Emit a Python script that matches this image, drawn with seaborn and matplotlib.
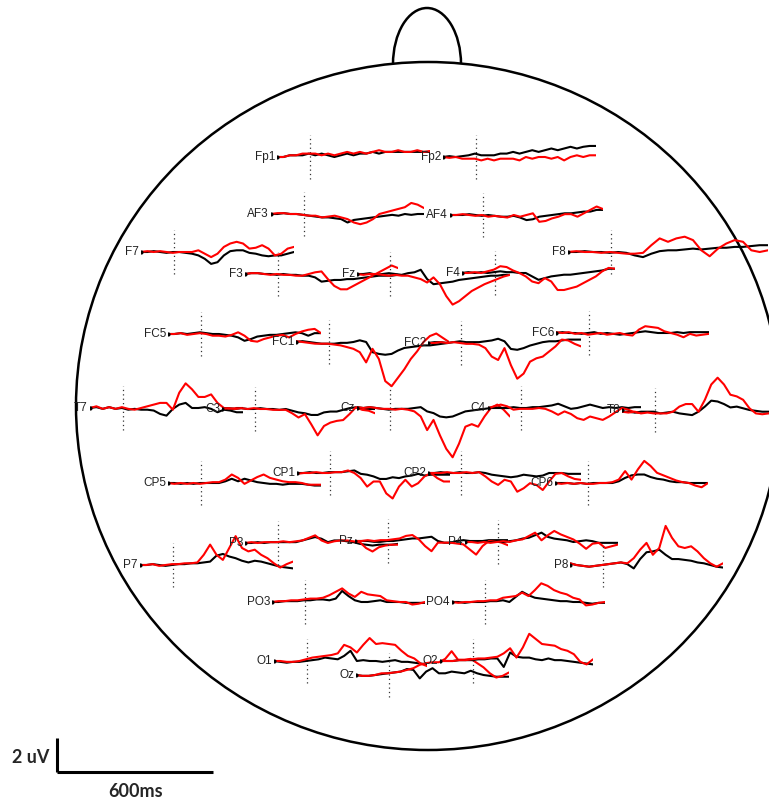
import numpy as np
import pandas as pd
import seaborn as sns
import matplotlib
matplotlib.use("Agg")
import matplotlib.pyplot as plt
from matplotlib.patches import Ellipse, Arc

# ---------------- data (uV, sampled every 25 ms from -130 ms) ----------------
times_ms = list(range(-130, 471, 25))

fp1_k = [0,0,0.1,0.1,0.1,0.2,0.1,0.2,0.1,0,0.1,0.2,0.1,0.2,0.2,0.3,0.2,0.3,0.3,0.3,0.3,0.3,0.3,0.3,0.3]
fp1_r = [0,0,0.1,0.1,0.2,0.2,0.2,0.1,0.2,0.1,0.2,0.3,0.2,0.3,0.2,0.3,0.4,0.3,0.3,0.4,0.3,0.3,0.4,0.3,0.35]
fp2_k = [0,0.05,0,0.05,0.1,0.2,0.1,0.1,0.1,0.2,0.2,0.3,0.2,0.3,0.4,0.3,0.4,0.5,0.4,0.5,0.6,0.5,0.6,0.65,0.65]
fp2_r = [0,-0.05,0,-0.1,-0.1,-0.1,-0.2,-0.1,-0.2,-0.1,-0.1,-0.1,-0.2,0,-0.1,0,0,-0.1,0,-0.2,0,0.1,0,0.1,0.1]
af3_k = [0,0,0.05,0,0,-0.05,-0.1,-0.15,-0.2,-0.2,-0.25,-0.3,-0.5,-0.35,-0.3,-0.25,-0.2,-0.15,-0.1,-0.05,-0.1,0,-0.05,0,0]
af3_r = [0,0.05,0.05,0,0,-0.05,-0.1,-0.1,-0.2,-0.15,-0.1,-0.2,-0.3,-0.5,-0.6,-0.5,-0.3,0,0.1,0.2,0.3,0.4,0.65,0.55,0.35]
af4_k = [0,0,0,0.05,0,-0.05,0,-0.05,-0.1,-0.1,-0.05,-0.15,-0.3,-0.25,-0.1,-0.05,0,0.05,0.1,0.1,0.15,0.2,0.2,0.3,0.3]
af4_r = [0,0,0.05,0,-0.05,0,-0.1,-0.05,-0.1,-0.15,0,-0.1,0,0.1,-0.4,-0.35,-0.2,-0.1,0.05,0.05,-0.1,0.1,0.3,0.5,0.35]
f7_k = [0,0,0.05,0,-0.05,0,0,-0.05,-0.1,-0.2,-0.4,-0.7,-0.6,-0.2,0.05,0.1,0.1,-0.05,-0.1,-0.2,-0.25,-0.2,-0.2,-0.1,0]
f7_r = [0,0.05,0,0.05,0,-0.05,0,0,0,0.1,-0.1,-0.3,-0.1,0.3,0.5,0.6,0.5,0.2,0.25,0.4,0.2,-0.2,-0.1,0.2,0.3]
f3_k = [0,0.05,0.05,0,0,-0.05,0,-0.05,-0.05,-0.1,-0.1,-0.2,-0.45,-0.4,-0.35,-0.35,-0.3,-0.3,-0.25,-0.2,-0.15,-0.1,-0.1,-0.1,-0.05]
f3_r = [0,0.05,0.05,0,-0.05,0,-0.05,-0.05,-0.1,-0.1,0,0.1,0.15,-0.3,-0.7,-0.9,-0.9,-0.7,-0.5,-0.3,-0.1,0.1,0.3,0.5,0.35]
fz_k = [0,0,0.05,-0.05,0,0.05,0,-0.05,0.05,0.1,0.25,-0.3,-0.6,-0.55,-0.5,-0.45,-0.35,-0.3,-0.25,-0.2,-0.15,-0.1,-0.1,-0.05,-0.05]
fz_r = [0,-0.05,0,0,-0.05,-0.1,-0.05,-0.1,-0.1,-0.2,-0.3,-0.5,-0.2,-0.6,-1.3,-1.8,-1.6,-1.3,-1.0,-0.8,-0.6,-0.45,-0.3,-0.15,-0.05]
f4_k = [0,0.05,0,0.05,0,0.05,0.1,0.05,0.05,0,0,-0.2,-0.4,-0.3,-0.2,-0.15,-0.1,-0.1,-0.05,0,0.05,0.1,0.15,0.25,0.25]
f4_r = [0,0,0.05,0,0.1,0.2,0.4,0.35,0.15,0,-0.2,-0.5,-0.6,-0.3,-0.5,-1.0,-1.0,-0.9,-0.8,-0.6,-0.4,-0.2,0.1,0.3,0.25]
f8_k = [0,0,0.05,0,0,-0.05,0,-0.05,-0.2,-0.3,-0.1,0.05,0.1,0.1,0.15,0.2,0.15,0.2,0.25,0.25,0.3,0.3,0.35,0.4,0.4]
f8_r = [0,0.05,0,0,-0.05,0,-0.05,-0.1,-0.1,-0.05,0.4,0.8,0.6,0.8,0.9,0.7,0.1,-0.25,0.2,0.5,0.7,0.6,0.1,0.0,0.1]
fc5_k = [0,0,0.05,0,0.05,0.1,0.05,0,0,-0.05,-0.1,-0.2,-0.4,-0.3,-0.15,-0.1,-0.05,-0.05,0,0.05,0.1,0.05,-0.1,0.05,0.05]
fc5_r = [0,0,0.05,-0.05,0,0.05,0,-0.1,-0.1,-0.15,-0.05,0.1,-0.1,-0.4,-0.45,-0.3,-0.2,-0.1,-0.05,-0.2,0,0.15,0.25,0.3,0.05]
fc1_k = [0,0.05,0,-0.05,-0.1,-0.1,-0.1,-0.05,-0.05,0,0.1,0,-0.6,-0.7,-0.75,-0.7,-0.5,-0.35,-0.3,-0.25,-0.2,-0.2,-0.15,-0.1,-0.05]
fc1_r = [0.05,0,-0.05,-0.1,-0.1,-0.1,-0.15,-0.2,-0.3,-0.4,-0.6,-1.2,-0.4,-1.0,-2.3,-2.6,-2.1,-1.6,-1.0,-0.55,0,0.35,0.5,0.25,0]
fc2_k = [0,0.05,0.05,0,0.05,0.1,0.05,0.05,0.05,0.1,0.15,0.25,0.1,-0.35,-0.4,-0.3,-0.15,-0.05,0.05,0.1,0.1,0.15,0.2,0.2,0.2]
fc2_r = [0,0,0.05,0,0.05,0,-0.05,-0.05,-0.1,-0.3,-0.8,-1.0,-0.3,-1.3,-2.1,-1.8,-1.1,-0.9,-0.8,-0.5,-0.2,0.2,0.15,-0.05,-0.2]
fc6_k = [0,0.05,0,0,-0.05,0,0.05,-0.05,0,-0.05,-0.1,-0.05,0,0.05,0.1,0.05,0,0,0,0.05,0,0.05,0.05,0.05,0.05]
fc6_r = [0.05,0,0.05,-0.05,0,-0.1,-0.05,0,-0.1,-0.05,0,-0.1,-0.15,0.2,0.4,0.35,0.3,0.1,0,-0.1,-0.25,-0.05,-0.15,-0.1,-0.05]
t7_k = [0,0.05,-0.05,0.05,-0.05,0,-0.1,-0.05,-0.1,-0.1,-0.15,-0.35,-0.45,-0.05,0.2,0.3,0,0,0.05,-0.05,-0.25,-0.1,-0.15,-0.25,-0.25]
t7_r = [0,0.1,-0.05,0.05,-0.05,0.05,-0.05,-0.1,0,0.1,0.2,0.3,0.3,-0.1,0.9,1.45,1.1,0.65,0.65,0.8,0.3,0,-0.05,0,0]
c3_k = [0,0.05,0,0.05,0,0,0.05,0,0,-0.05,0,-0.1,-0.2,-0.25,-0.35,-0.35,-0.2,-0.15,-0.15,-0.05,0.05,0.1,0,0,0]
c3_r = [0,0.05,0,0.05,0,0.05,0,0,-0.05,-0.05,-0.05,-0.25,-0.5,-0.3,-0.9,-1.55,-1.0,-0.8,-0.7,-0.65,-0.3,0.1,-0.05,-0.1,-0.25]
cz_k = [0.05,0,0.05,0,-0.05,-0.1,-0.05,-0.05,-0.05,0,0.05,-0.2,-0.3,-0.5,-0.55,-0.5,-0.35,-0.2,-0.15,-0.1,-0.05,0,0,0,0]
cz_r = [0.05,0,0.05,0,-0.05,-0.05,-0.1,-0.05,-0.1,-0.2,-0.5,-1.3,-0.7,-1.6,-2.4,-2.9,-2.1,-1.1,-0.95,-1.1,-0.5,0,0.2,-0.1,-0.5]
c4_k = [0,0.05,0,0,0.05,0,0,0.05,0.05,0.1,0.15,0.25,0.1,-0.05,0,0.1,0.2,0.1,0,0.05,0,0.05,0,0.05,0.05]
c4_r = [0,0.1,0.2,0.1,-0.1,-0.05,-0.05,-0.05,0,-0.05,-0.2,-0.4,-0.2,-0.35,-0.6,-0.7,-0.5,-0.6,-0.7,-0.5,-0.25,0,-0.1,-0.25,-0.3]
t8_k = [-0.1,-0.1,-0.15,-0.1,-0.1,-0.1,-0.2,-0.15,-0.1,-0.2,-0.25,-0.3,-0.1,0.2,0.55,0.5,0.35,0.15,0.2,0.1,0,-0.05,-0.1,-0.1,-0.1]
t8_r = [-0.1,-0.15,-0.1,-0.2,-0.15,-0.2,-0.2,-0.2,-0.1,0.2,0.35,0.35,-0.1,0.6,1.5,1.9,1.5,0.9,0.8,0.6,0.1,-0.2,-0.25,-0.2,-0.2]
cp5_k = [0,0,-0.05,0,-0.05,0,0,0,0,0.1,0.25,0.1,0.25,0.15,0.05,0,-0.05,-0.05,-0.1,-0.05,-0.05,-0.05,-0.1,-0.15,-0.15]
cp5_r = [0,-0.05,0,-0.05,0,-0.05,0,0.05,0.05,0.2,0.5,0.3,-0.05,0.15,0.35,0.5,0.3,0.2,0.1,0.05,0.05,0,-0.1,-0.1,-0.1]
cp1_k = [0,0,0.05,0,0,0.05,0.05,0.05,0.1,0.15,-0.05,-0.1,-0.2,-0.35,-0.35,-0.25,-0.3,-0.2,-0.15,-0.05,-0.15,-0.1,-0.1,-0.1,-0.1]
cp1_r = [-0.05,0,0,0.05,0,0,0.05,0.05,0.15,0,-0.3,-0.8,-0.5,-0.5,-1.2,-1.5,-0.8,-0.4,-0.8,-0.6,-0.2,0,-0.3,-0.5,-0.5]
cp2_k = [0,0,0.05,0,0,0.05,0,0,0.05,0,-0.1,-0.15,-0.2,-0.25,-0.2,-0.1,-0.15,-0.2,-0.15,0,0,0,-0.05,-0.05,-0.05]
cp2_r = [0,0,0,0.05,0,0,0.05,0,0.05,-0.2,-0.5,-0.7,-0.4,-0.5,-1.1,-0.9,-0.6,-0.7,-1.0,-0.5,-0.05,0,-0.2,-0.35,-0.4]
cp6_k = [0,0,0,-0.05,0,-0.05,0,0,0,0,0.1,0.3,0.45,0.5,0.5,0.35,0.25,0.2,0.1,0.05,0.05,0,0,0,0]
cp6_r = [0,-0.05,0,-0.05,0,-0.05,-0.05,0,0,0.05,0.2,0.7,0.2,0.8,1.3,1.0,0.6,0.45,0.3,0.15,0.05,0,-0.15,-0.25,0]
p7_k = [0,0,0.05,0,-0.05,0,0.05,0.05,0.1,0.1,0.15,0.2,0.55,0.65,0.5,0.4,0.25,0.15,0.25,0.2,0.1,0,-0.1,-0.15,-0.2]
p7_r = [0,0,0.05,-0.05,0,0.05,0.05,0.1,0.1,0.15,0.6,1.2,0.6,0.3,1.0,1.7,1.0,0.8,0.9,0.6,0.4,0.1,-0.15,0.05,0.2]
p3_k = [0,0,0.05,0,0.05,0.05,0.05,0.05,0.05,0.15,0.25,0.35,0.25,0.05,0.15,0.15,0.1,0.05,-0.05,-0.1,-0.15,-0.1,-0.1,-0.1,-0.05]
p3_r = [0,0.05,0,0.05,0.05,0.05,0.1,0.05,0.1,0.15,0.3,0.45,0.15,0,0.1,0.15,0.15,0.1,0.05,-0.3,-0.5,-0.25,-0.15,-0.1,-0.1]
pz_k = [0,0,0,-0.05,-0.05,0,0,0.05,0.1,0.15,0.15,0.2,0.25,0,-0.1,-0.1,0,0.05,0,0,0,0.05,0.05,0.05,0.05]
pz_r = [0,0,0.05,0,0.05,0.05,0.1,0.15,0.3,0.35,0.1,-0.3,-0.6,-0.1,-0.1,-0.1,-0.15,-0.2,-0.5,-0.8,-0.3,0,0,-0.1,-0.25]
p4_k = [0,0,0.05,0,0,0.05,0,0.05,0.1,0.2,0.25,0.4,0.55,0.3,0.2,0.15,0.1,0,0.05,0.1,0.05,-0.05,-0.05,-0.05,-0.05]
p4_r = [0,0,-0.05,0,-0.05,0,0.05,0,0.1,0.15,0.35,0.55,0.1,0.4,0.65,0.45,0.3,0.15,-0.1,-0.4,-0.1,-0.05,-0.35,-0.25,-0.15]
p8_k = [0.1,0,-0.05,-0.1,-0.05,0,0.05,0.1,0.15,0.05,-0.2,0.35,0.75,0.8,0.9,0.6,0.35,0.35,0.3,0.25,0.15,0.1,0,-0.1,-0.15]
p8_r = [0.1,0,-0.05,-0.1,-0.05,0,0.05,0.1,0.15,0.1,0.4,0.9,1.3,0.6,1.0,2.3,1.6,1.1,1.0,1.1,0.8,0.4,0.1,-0.1,0.1]
po3_k = [0,0,0.05,0.05,0.05,0.1,0.1,0.15,0.15,0.1,0.2,0.65,0.35,0.1,0,0,0.05,0.1,0,0,0,-0.05,-0.05,-0.05,-0.05]
po3_r = [0,0.05,0.05,0.1,0.1,0.15,0.2,0.2,0.25,0.4,0.6,0.8,0.5,0.3,0.6,0.45,0.4,0.35,0.1,0.05,0,0,-0.15,-0.1,0]
po4_k = [0,0,-0.05,0,0,0,0.05,0.05,0.1,0,0.3,0.6,0.4,0.25,0.2,0.15,0.1,0.05,0.05,0,0,-0.05,-0.1,-0.05,-0.05]
po4_r = [0,-0.05,0,0,0.05,0.05,0.1,0.1,0.25,0.3,0.35,0.55,0.35,0.7,1.1,0.95,0.7,0.55,0.45,0.25,0.15,-0.2,-0.15,-0.05,0]
o1_k = [0,-0.05,-0.1,-0.05,-0.05,0,0.05,0.1,0.2,0.15,0.1,0.3,0.6,0,0.05,0,0,-0.05,0,0.05,-0.05,-0.05,-0.1,-0.15,-0.2]
o1_r = [0,0,-0.05,-0.05,0,0.1,0.2,0.25,0.3,0.35,0.45,0.95,0.8,0.5,0.95,1.35,1.0,1.05,1.0,0.95,0.6,0.3,0.15,-0.15,-0.3]
oz_k = [0,-0.05,-0.05,0,0.05,0.1,0.15,0.2,0.35,0.3,-0.2,0.2,0.4,0.1,0.1,0.2,0.15,0.1,0.25,0.1,0,-0.05,-0.1,-0.1,-0.1]
oz_r = [0,-0.05,-0.05,0,0.1,0.1,0.15,0.2,0.3,0.4,0.6,0.7,0.75,0.75,0.95,1.4,0.9,0.9,0.95,0.7,0.45,0.1,-0.15,-0.05,0.15]
o2_k = [0,0,0,0.05,0.05,0.05,0.1,0.1,0.15,0.15,-0.35,0.5,0.25,0.2,0.2,0.1,0.05,0.15,0.05,0.05,0,-0.05,-0.1,-0.15,-0.2]
o2_r = [0,0,0,0.05,0.05,0.1,0.15,0.15,0.2,0.25,0.45,0.75,0.2,0.8,1.6,1.3,1.0,0.95,0.9,0.7,0.6,0.4,-0.05,-0.2,0.1]

channel_names = ["Fp1","Fp2","AF3","AF4","F7","F3","Fz","F4","F8",
                 "FC5","FC1","FC2","FC6","T7","C3","Cz","C4","T8",
                 "CP5","CP1","CP2","CP6","P7","P3","Pz","P4","P8",
                 "PO3","PO4","O1","Oz","O2"]
black_series = [fp1_k,fp2_k,af3_k,af4_k,f7_k,f3_k,fz_k,f4_k,f8_k,
                fc5_k,fc1_k,fc2_k,fc6_k,t7_k,c3_k,cz_k,c4_k,t8_k,
                cp5_k,cp1_k,cp2_k,cp6_k,p7_k,p3_k,pz_k,p4_k,p8_k,
                po3_k,po4_k,o1_k,oz_k,o2_k]
red_series = [fp1_r,fp2_r,af3_r,af4_r,f7_r,f3_r,fz_r,f4_r,f8_r,
              fc5_r,fc1_r,fc2_r,fc6_r,t7_r,c3_r,cz_r,c4_r,t8_r,
              cp5_r,cp1_r,cp2_r,cp6_r,p7_r,p3_r,pz_r,p4_r,p8_r,
              po3_r,po4_r,o1_r,oz_r,o2_r]

# ---------------- layout (pixel positions: trace start x, baseline y[, width]) ----------------
layout = {
    "Fp1": (277, 157), "Fp2": (443, 157), "AF3": (271, 214), "AF4": (450, 215),
    "F7": (141, 252), "F3": (245, 274), "Fz": (357, 274), "F4": (462, 273), "F8": (568, 252, 200),
    "FC5": (168, 334), "FC1": (296, 342), "FC2": (428, 343), "FC6": (556, 333),
    "T7": (90, 408), "C3": (222, 409), "Cz": (357, 408), "C4": (488, 408), "T8": (622, 410),
    "CP5": (168, 483), "CP1": (297, 473), "CP2": (428, 473), "CP6": (555, 483),
    "P7": (140, 565), "P3": (245, 543), "Pz": (355, 541), "P4": (465, 542), "P8": (570, 565),
    "PO3": (272, 602), "PO4": (452, 602), "O1": (274, 661), "Oz": (356, 675), "O2": (440, 661),
}

W, H = 769, 805
TRACE_W = 153          # px for 600 ms
UV_PX = 17.0           # px per uV
HALF_H_UV = 3.0

sns.set_style("white")
plt.rcParams["font.family"] = ["Liberation Sans", "DejaVu Sans"]

fig = plt.figure(figsize=(W / 100, H / 100), dpi=100)
main = fig.add_axes([0, 0, 1, 1])
main.set_xlim(0, W)
main.set_ylim(H, 0)
main.axis("off")

# head outline and nose
main.add_patch(Ellipse((428, 406), 2 * 352, 2 * 344, fill=False, lw=1.8, color="black"))
main.add_patch(Arc((427, 64), 68, 112, theta1=180, theta2=360, lw=1.8, color="black"))

# scale bar
main.plot([57, 57], [738, 772], color="black", lw=2.2, solid_capstyle="butt")
main.plot([57, 213], [772, 772], color="black", lw=2.2, solid_capstyle="butt")
main.text(49, 757, "2 uV", ha="right", va="center", fontsize=13, fontweight="bold",
          family=["Lato", "DejaVu Sans"])
main.text(136, 791, "600ms", ha="center", va="center", fontsize=13, fontweight="bold",
          family=["Lato", "DejaVu Sans"])

t0, t1 = times_ms[0], times_ms[-1]
h_px = 2 * HALF_H_UV * UV_PX
for name, kser, rser in zip(channel_names, black_series, red_series):
    pos = layout[name]
    x0, yb = pos[0], pos[1]
    wpx = pos[2] if len(pos) > 2 else TRACE_W
    ax = fig.add_axes([x0 / W, 1 - (yb + h_px / 2) / H, wpx / W, h_px / H])
    ax.plot([0, 0], [-1.3, 1.3], color="#333333", lw=0.9, ls=(0, (1, 2.5)))
    df = pd.DataFrame({"t": times_ms * 2,
                       "v": list(kser) + list(rser),
                       "cond": ["black"] * len(kser) + ["red"] * len(rser)})
    sns.lineplot(data=df, x="t", y="v", hue="cond", palette={"black": "black", "red": "#ff0000"},
                 estimator=None, sort=False, legend=False, lw=1.5, ax=ax)
    ax.set_xlim(t0, t1)
    ax.set_ylim(-HALF_H_UV, HALF_H_UV)
    ax.axis("off")
    ax.plot([t0], [0], marker="o", ms=2, color="black")
    ax.annotate(name, xy=(t0, 0), xytext=(-1.5, 0), textcoords="offset points",
                ha="right", va="center", fontsize=8.5, color="#222222")

fig.savefig("out.png", dpi=100)
